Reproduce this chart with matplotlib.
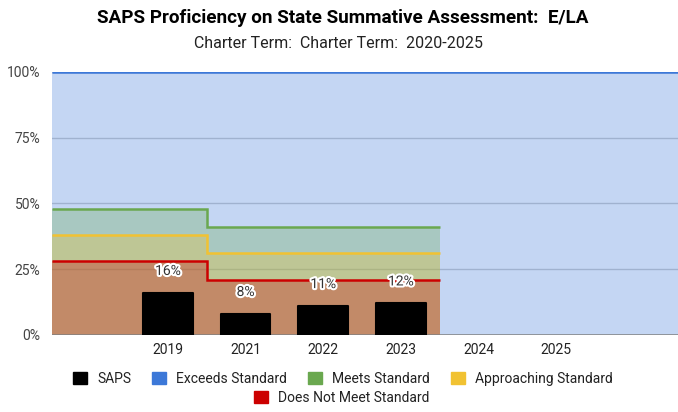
import numpy as np
import matplotlib
matplotlib.use("Agg")
import matplotlib.pyplot as plt
from matplotlib.patches import Patch
import matplotlib.patheffects as pe

plt.rcParams['font.family'] = ['Roboto', 'DejaVu Sans']

categories = ["", "2019", "2021", "2022", "2023", "2024", "2025", ""]
saps = [np.nan, 16, 8, 11, 12, np.nan, np.nan, np.nan]
exceeds = [100, 100, 100, 100, 100, 100, 100, 100]
meets = [48, 48, 41, 41, 41, np.nan, np.nan, np.nan]
approaching = [38, 38, 31, 31, 31, np.nan, np.nan, np.nan]
does_not_meet = [28, 28, 21, 21, 21, np.nan, np.nan, np.nan]

title = "SAPS Proficiency on State Summative Assessment:  E/LA"
subtitle = "Charter Term:  Charter Term:  2020-2025"

c_saps = "#000000"
c_exc = "#3c78d8"
c_meets = "#6aa84f"
c_appr = "#f1c232"
c_dnm = "#cc0000"

W, H = 678, 412
fig = plt.figure(figsize=(W / 100, H / 100), dpi=100)
left_px = 51.5
ax = fig.add_axes([left_px / W, (H - 335) / H, (W - left_px) / W, (335 - 72) / H])

x = np.arange(len(categories))
ax.set_xlim(-0.5, len(categories) - 0.43)
ax.set_ylim(0, 100)

# gridlines
for g in [25, 50, 75, 100]:
    ax.axhline(g, color="#cccccc", lw=1, zorder=0)

def stepped(vals, color, z):
    v = np.array(vals, dtype=float)
    valid = ~np.isnan(v)
    idx = np.where(valid)[0]
    vv = v[idx]
    edges = np.append(idx - 0.5, idx[-1] + 0.5)
    if idx[-1] == len(v) - 1:
        edges[-1] = len(v) - 0.43
    ax.stairs(vv, edges, baseline=0, fill=True, color=color, alpha=0.3,
              lw=0, zorder=z)
    ax.stairs(vv, edges, baseline=None, color=color, lw=1.8, zorder=z + 0.5)

stepped(exceeds, c_exc, 1)
stepped(meets, c_meets, 2)
stepped(approaching, c_appr, 3)
stepped(does_not_meet, c_dnm, 4)

ax.axhline(0, color="#808080", lw=1.8, zorder=6)

bars = ax.bar(x, saps, width=0.64, color=c_saps, edgecolor=c_saps, lw=1.5,
              joinstyle="round", zorder=7)
for xi, v in zip(x, saps):
    if not np.isnan(v):
        ax.annotate(f"{v:.0f}%", (xi, v), xytext=(0, 22), textcoords="offset pixels",
                    ha="center", va="center", fontsize=10, color="#333333",
                    path_effects=[pe.withStroke(linewidth=3, foreground="white")],
                    zorder=8)

for s in ax.spines.values():
    s.set_visible(False)
ax.set_xticks(x)
ax.set_xticklabels(categories, fontsize=10, color="#222222")
ax.set_yticks([0, 25, 50, 75, 100])
ax.set_yticklabels(["0%", "25%", "50%", "75%", "100%"], fontsize=10, color="#444444")
ax.tick_params(length=0, pad=8)
ax.tick_params(axis="x", pad=6)

fig.text(343 / W, 1 - 18 / H, title, ha="center", va="center", fontsize=13.6,
         fontweight="bold", color="#000000")
fig.text(339 / W, 1 - 43 / H, subtitle, ha="center", va="center", fontsize=11.5,
         color="#222222")

def handle(c):
    return Patch(facecolor=c, edgecolor=c, joinstyle="round")

row1 = [handle(c_saps), handle(c_exc), handle(c_meets), handle(c_appr)]
lab1 = ["SAPS", "Exceeds Standard", "Meets Standard", "Approaching Standard"]
kw = dict(frameon=False, fontsize=10, handlelength=1.0, handleheight=1.0,
          handletextpad=0.75, columnspacing=1.5, borderpad=0, borderaxespad=0,
          labelcolor="#222222")
leg1 = fig.legend(row1, lab1, loc="center", ncol=4,
                  bbox_to_anchor=(343 / W, 1 - 379 / H), **kw)
leg2 = fig.legend([handle(c_dnm)], ["Does Not Meet Standard"], loc="center", ncol=1,
                  bbox_to_anchor=(342 / W, 1 - 398 / H), **kw)

fig.savefig("out.png", dpi=100)
